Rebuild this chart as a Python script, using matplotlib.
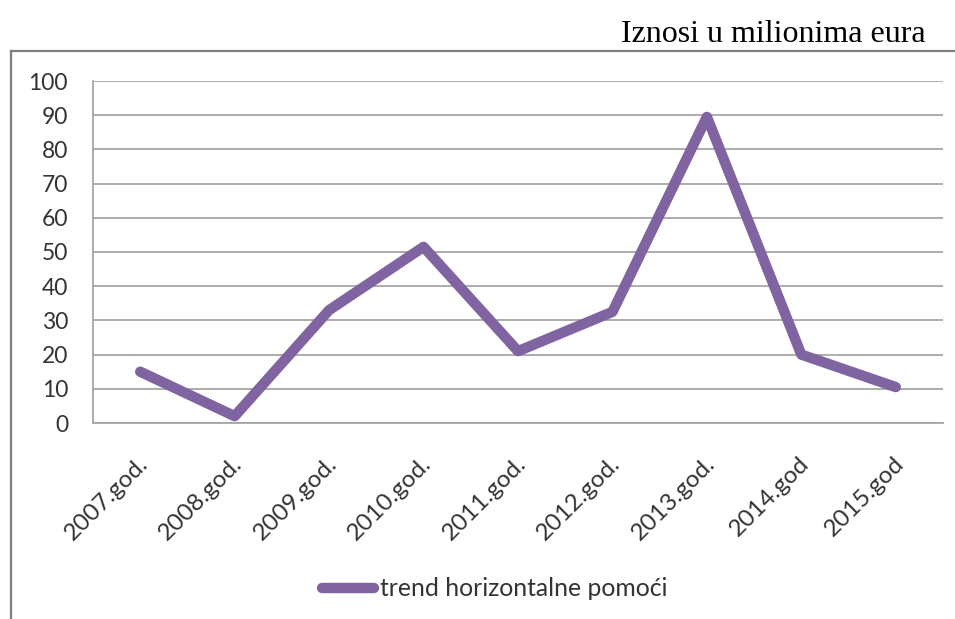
import matplotlib
matplotlib.use("Agg")
import matplotlib.pyplot as plt
from matplotlib.lines import Line2D
import matplotlib.transforms as mtransforms

categories = ["2007.god.", "2008.god.", "2009.god.", "2010.god.", "2011.god.",
              "2012.god.", "2013.god.", "2014.god", "2015.god"]
values = [15, 2, 33, 51.5, 21, 32.5, 89.5, 20, 10.5]
y_ticks = [0, 10, 20, 30, 40, 50, 60, 70, 80, 90, 100]
series_name = "trend horizontalne pomoći"
unit_note = "Iznosi u milionima eura"

W, H = 955, 619
fig = plt.figure(figsize=(W / 100, H / 100), dpi=100)
fig.patch.set_facecolor("white")

# outer chart frame (left and top edges visible)
fig.add_artist(Line2D([11 / W, 11 / W], [0, 1 - 51 / H], color="#7f7f7f", lw=1.6,
                      transform=fig.transFigure))
fig.add_artist(Line2D([11 / W, 1], [1 - 51 / H, 1 - 51 / H], color="#7f7f7f", lw=1.6,
                      transform=fig.transFigure))

fig.text(926 / W, 1 - 42 / H, unit_note, ha="right", va="baseline",
         fontsize=23, family="Liberation Serif", color="black")

ax = fig.add_axes([93 / W, 1 - 423 / H, (943 - 93) / W, (423 - 81) / H])
x = list(range(len(categories)))
ax.plot(x, values, color="#8064A2", lw=7.5, solid_capstyle="round",
        solid_joinstyle="round", zorder=3)
ax.set_xlim(-0.5, len(categories) - 0.5)
ax.set_ylim(0, 100)
ax.set_yticks(y_ticks)
ax.yaxis.grid(True, color="#a6a6a6", lw=1.3)
ax.set_axisbelow(True)
for s in ["top", "right"]:
    ax.spines[s].set_visible(False)
ax.spines["left"].set_color("#a6a6a6")
ax.spines["bottom"].set_color("#a6a6a6")
ax.spines["left"].set_linewidth(1.3)
ax.spines["bottom"].set_linewidth(1.3)
ax.tick_params(axis="both", length=0, colors="#333333", labelsize=16.5)
ax.tick_params(axis="y", pad=18)
ax.set_xticks(x)
ax.set_xticklabels(categories, rotation=45, ha="right", va="top",
                   rotation_mode="anchor", family="Lato", fontsize=17.5)
offset = mtransforms.ScaledTranslation(-3 / 100, -25 / 100, fig.dpi_scale_trans)
for lbl in ax.get_xticklabels():
    lbl.set_transform(lbl.get_transform() + offset)
for lbl in ax.get_yticklabels():
    lbl.set_family("Lato")

# legend
fig.add_artist(Line2D([322 / W, 374 / W], [1 - 588 / H, 1 - 588 / H], color="#8064A2",
                      lw=7.5, solid_capstyle="round", transform=fig.transFigure))
fig.text(380 / W, 1 - 588 / H, series_name, ha="left", va="center", fontsize=17.8,
         family="Lato", color="#333333")

fig.savefig("out.png", dpi=100)
